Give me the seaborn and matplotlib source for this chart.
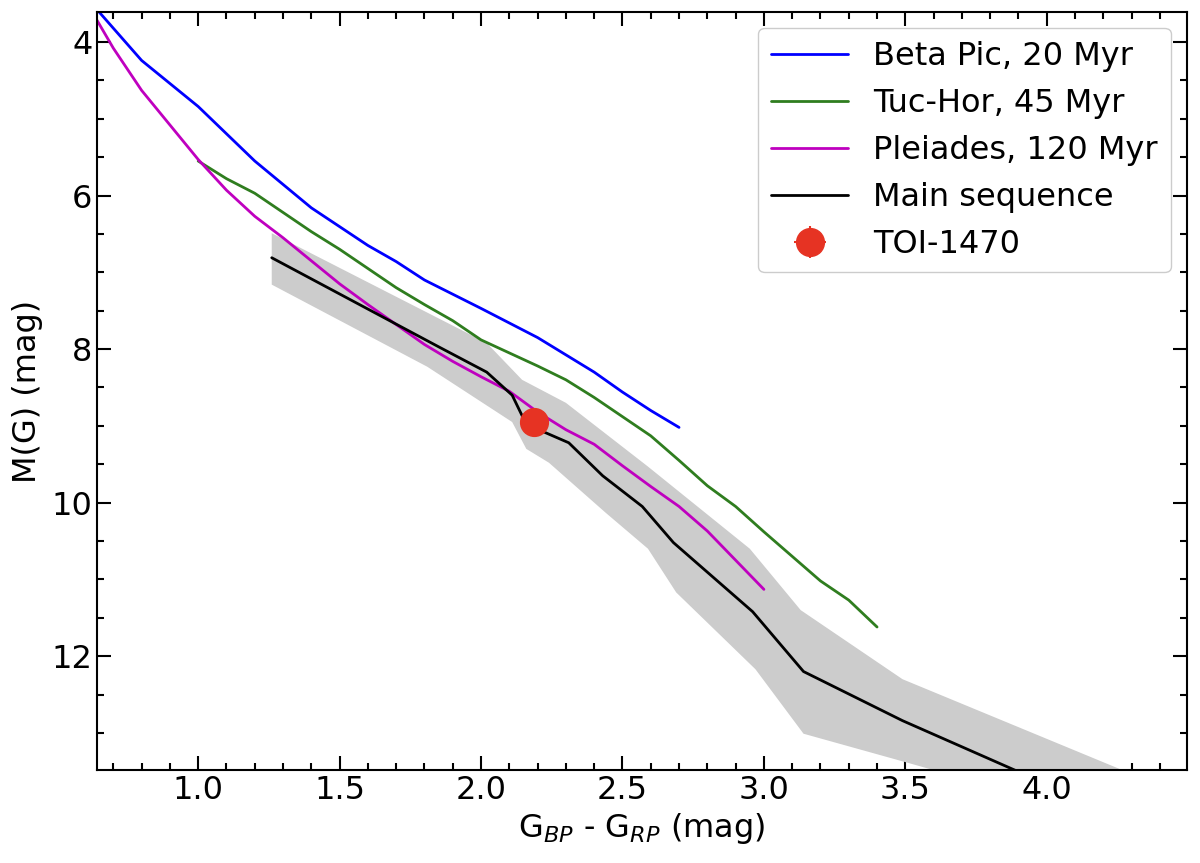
import numpy as np
import pandas as pd
import matplotlib
matplotlib.use("Agg")
import matplotlib.pyplot as plt
from matplotlib.ticker import MultipleLocator
import seaborn as sns

# isochrones (colour, absolute G mag)
beta_pic_color = [0.6, 0.8, 1.0, 1.2, 1.4, 1.6, 1.7, 1.8, 2.0, 2.2, 2.4, 2.5, 2.6, 2.7]
beta_pic_mag = [3.40, 4.24, 4.84, 5.55, 6.16, 6.65, 6.86, 7.10, 7.47, 7.85, 8.30, 8.56, 8.80, 9.02]

tuc_hor_color = [1.0, 1.1, 1.2, 1.3, 1.4, 1.5, 1.6, 1.7, 1.8, 1.9, 2.0, 2.1, 2.2,
                 2.3, 2.4, 2.5, 2.6, 2.7, 2.8, 2.9, 3.0, 3.1, 3.2, 3.3, 3.4]
tuc_hor_mag = [5.55, 5.78, 5.97, 6.22, 6.47, 6.70, 6.95, 7.20, 7.42, 7.63, 7.88, 8.05, 8.22,
               8.40, 8.63, 8.88, 9.13, 9.45, 9.78, 10.05, 10.38, 10.70, 11.02, 11.27, 11.62]

pleiades_color = [0.6, 0.7, 0.8, 0.9, 1.0, 1.1, 1.2, 1.3, 1.4, 1.5, 1.6, 1.7, 1.8,
                  1.9, 2.0, 2.1, 2.2, 2.3, 2.4, 2.5, 2.6, 2.7, 2.8, 2.9, 3.0]
pleiades_mag = [3.45, 4.08, 4.63, 5.08, 5.53, 5.93, 6.27, 6.55, 6.85, 7.15, 7.42, 7.68, 7.94,
                8.16, 8.36, 8.55, 8.82, 9.05, 9.24, 9.52, 9.79, 10.05, 10.37, 10.75, 11.13]

ms_color = [1.26, 1.85, 2.02, 2.11, 2.16, 2.31, 2.43, 2.57, 2.68, 2.96, 3.14, 3.49, 4.10]
ms_mag = [6.81, 7.97, 8.30, 8.60, 8.98, 9.22, 9.65, 10.05, 10.52, 11.42, 12.20, 12.84, 13.83]

# spread of the main sequence
band_upper_color = [1.26, 2.02, 2.145, 2.30, 2.59, 2.95, 3.13, 3.49, 4.35]
band_upper_mag = [6.49, 7.92, 8.40, 8.70, 9.53, 10.60, 11.40, 12.30, 13.61]
band_lower_color = [1.26, 1.81, 2.11, 2.16, 2.24, 2.44, 2.59, 2.69, 2.97, 3.14, 3.50, 4.00]
band_lower_mag = [7.16, 8.23, 8.95, 9.30, 9.48, 10.13, 10.60, 11.17, 12.17, 13.01, 13.38, 13.90]

toi_color = [2.187]
toi_mag = [8.955]
toi_color_err = [0.05]
toi_mag_err = [0.19]

sns.set_style("ticks")
plt.rcParams['font.family'] = ['DejaVu Sans']
plt.rcParams['text.color'] = 'black'
plt.rcParams['axes.labelcolor'] = 'black'
plt.rcParams['xtick.color'] = 'black'
plt.rcParams['ytick.color'] = 'black'
plt.rcParams['axes.edgecolor'] = 'black'

fig = plt.figure(figsize=(12, 8.63), dpi=100)
ax = fig.add_axes([0.081, 0.108, 0.908, 0.878])

band_x = band_upper_color + band_lower_color[::-1]
band_y = band_upper_mag + band_lower_mag[::-1]
ax.fill(band_x, band_y, color='0.8', lw=0, zorder=1)

curves = [
    (beta_pic_color, beta_pic_mag, 'Beta Pic, 20 Myr', 'blue'),
    (tuc_hor_color, tuc_hor_mag, 'Tuc-Hor, 45 Myr', '#2f7d1f'),
    (pleiades_color, pleiades_mag, 'Pleiades, 120 Myr', '#bf00bf'),
    (ms_color, ms_mag, 'Main sequence', 'black'),
]
for xs, ys, lab, col in curves:
    df = pd.DataFrame({'color': xs, 'mag': ys})
    sns.lineplot(data=df, x='color', y='mag', sort=False, estimator=None,
                 color=col, lw=2, label=lab, ax=ax, zorder=2)

ax.errorbar(toi_color, toi_mag, xerr=toi_color_err, yerr=toi_mag_err, fmt='o',
            color='#e63323', ms=20, elinewidth=1.5, zorder=3, label='TOI-1470')

ax.set_xlim(0.643, 4.495)
ax.set_ylim(13.48, 3.61)
ax.xaxis.set_major_locator(MultipleLocator(0.5))
ax.xaxis.set_minor_locator(MultipleLocator(0.1))
ax.yaxis.set_major_locator(MultipleLocator(2))
ax.yaxis.set_minor_locator(MultipleLocator(0.5))
ax.tick_params(which='both', direction='in', top=True, right=True, labelsize=23, width=1.5)
ax.tick_params(which='major', length=10)
ax.tick_params(which='minor', length=5)
for sp in ax.spines.values():
    sp.set_linewidth(1.5)

ax.set_xlabel(r'G$_{BP}$ - G$_{RP}$ (mag)', fontsize=23, labelpad=4)
ax.set_ylabel('M(G) (mag)', fontsize=23, labelpad=6)

ax.legend(loc='upper right', fontsize=23, handlelength=2.4, framealpha=1,
          edgecolor='0.8', borderaxespad=0.5)

fig.savefig('out.png', dpi=100)
